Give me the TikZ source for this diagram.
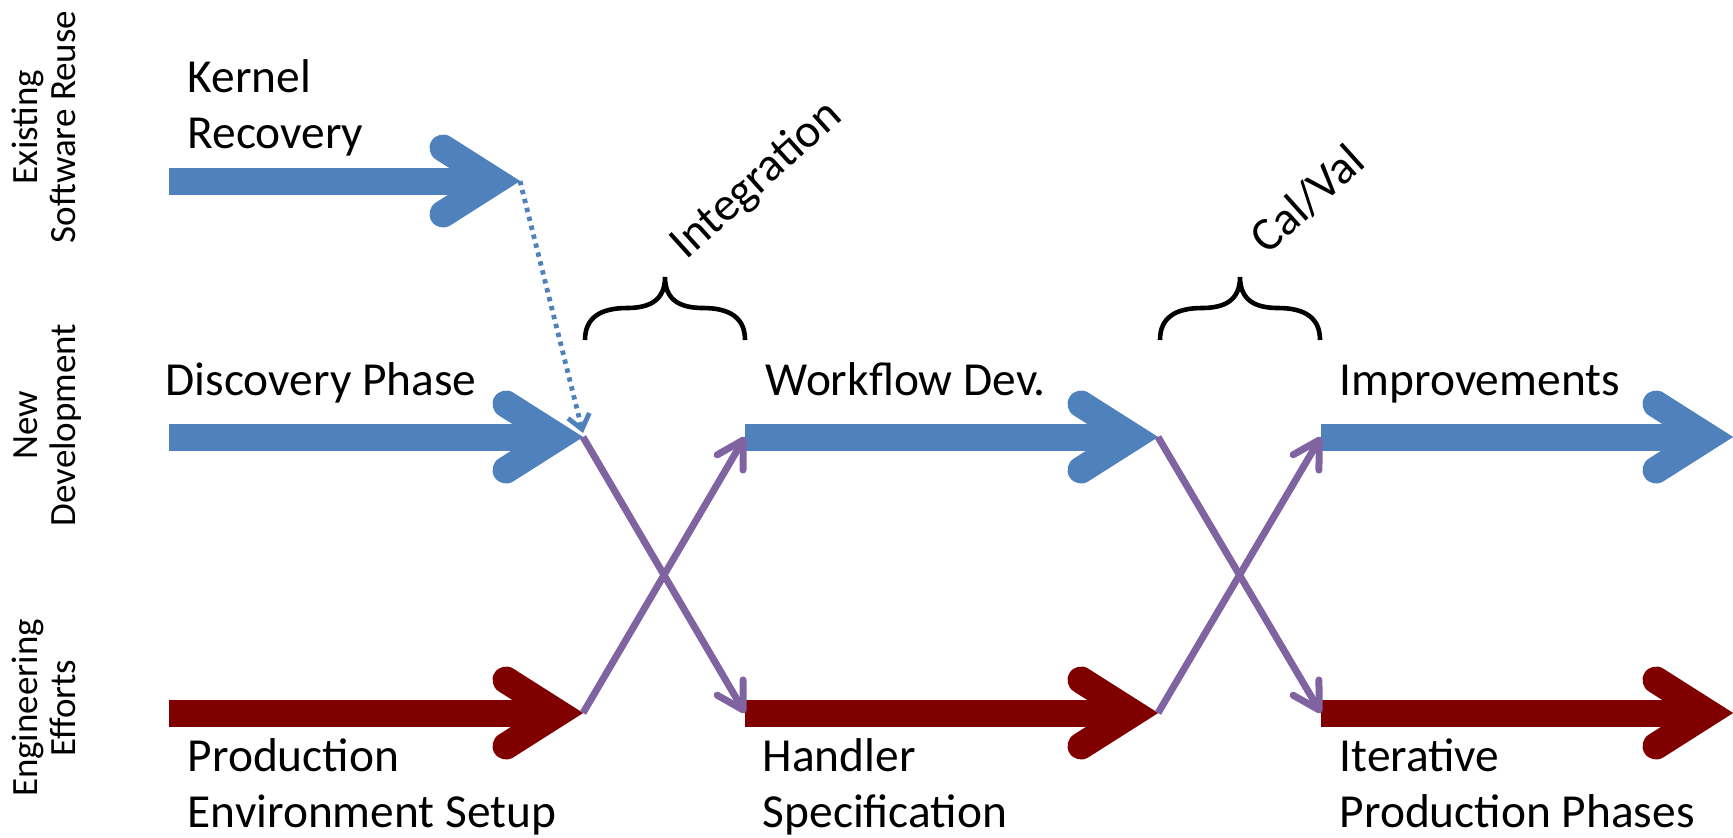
\documentclass[tikz,border=0pt]{standalone}
\usepackage{fontspec}
\setmainfont{Carlito}
\usetikzlibrary{arrows.meta}

\definecolor{flowblue}{RGB}{79,129,189}
\definecolor{flowred}{RGB}{128,0,0}
\definecolor{flowpurple}{RGB}{128,100,162}

\tikzset{every picture/.style={line width=0.75pt},
	shaft/.style={line width=13.5pt},
	fathead/.style={line width=13.5pt, line cap=round, line join=miter},
	swap/.style={flowpurple, line width=3.5pt, -{Straight Barb[length=13pt,width=15pt,round]}},
	reuse/.style={flowblue, line width=2.4pt, dash pattern=on 2.2pt off 2.4pt, -{Straight Barb[length=7pt,width=11pt]}},
	bracket/.style={line width=2.3pt},
	lbl/.style={inner sep=0pt, align=left, font=\fontsize{23.7}{28}\selectfont},
	side/.style={inner sep=0pt, align=center, rotate=90, font=\fontsize{18.5}{19}\selectfont}}

\begin{document}
\begin{tikzpicture}[x=0.5pt,y=0.5pt,yscale=-1,xscale=1]
	\useasboundingbox (0,0) rectangle (1733,837);
	
	%arrow ends
	\coordinate (kr-s) at (169,181);  \coordinate (kr-t) at (520,181);
	\coordinate (dp-s) at (169,437);  \coordinate (dp-t) at (583,437);
	\coordinate (pe-s) at (169,713);  \coordinate (pe-t) at (583,713);
	\coordinate (wf-s) at (745,437);  \coordinate (wf-t) at (1158,437);
	\coordinate (hs-s) at (745,713);  \coordinate (hs-t) at (1158,713);
	\coordinate (im-s) at (1321,437); \coordinate (im-t) at (1733,437);
	\coordinate (ip-s) at (1321,713); \coordinate (ip-t) at (1733,713);
	
	%Shape: fat arrows
	\draw [shaft, flowblue] (kr-s) -- ([xshift=-12.5pt]kr-t) ;
	\draw [fathead, flowblue, shift={(kr-t)}] (-77,-33) -- (-25,0) -- (-77,33) ;
	\draw [shaft, flowblue] (dp-s) -- ([xshift=-12.5pt]dp-t) ;
	\draw [fathead, flowblue, shift={(dp-t)}] (-77,-33) -- (-25,0) -- (-77,33) ;
	\draw [shaft, flowred] (pe-s) -- ([xshift=-12.5pt]pe-t) ;
	\draw [fathead, flowred, shift={(pe-t)}] (-77,-33) -- (-25,0) -- (-77,33) ;
	\draw [shaft, flowblue] (wf-s) -- ([xshift=-12.5pt]wf-t) ;
	\draw [fathead, flowblue, shift={(wf-t)}] (-77,-33) -- (-25,0) -- (-77,33) ;
	\draw [shaft, flowred] (hs-s) -- ([xshift=-12.5pt]hs-t) ;
	\draw [fathead, flowred, shift={(hs-t)}] (-77,-33) -- (-25,0) -- (-77,33) ;
	\draw [shaft, flowblue] (im-s) -- ([xshift=-12.5pt]im-t) ;
	\draw [fathead, flowblue, shift={(im-t)}] (-77,-33) -- (-25,0) -- (-77,33) ;
	\draw [shaft, flowred] (ip-s) -- ([xshift=-12.5pt]ip-t) ;
	\draw [fathead, flowred, shift={(ip-t)}] (-77,-33) -- (-25,0) -- (-77,33) ;
	
	%crossings
	\draw [swap] (dp-t) -- (hs-s) ;
	\draw [swap] (pe-t) -- (wf-s) ;
	\draw [swap] (wf-t) -- (ip-s) ;
	\draw [swap] (hs-t) -- (im-s) ;
	\draw [reuse] (kr-t) -- ([yshift=-2pt]dp-t) ;
	
	%Shape: Brace
	\draw [bracket] (585,340) .. controls (585,318) and (600,308) .. (627,308) .. controls (650,308) and (665,300) .. (665,277) .. controls (665,300) and (680,308) .. (703,308) .. controls (730,308) and (745,318) .. (745,340) ;
	%Shape: Brace
	\draw [bracket, shift={(575,0)}] (585,340) .. controls (585,318) and (600,308) .. (627,308) .. controls (650,308) and (665,300) .. (665,277) .. controls (665,300) and (680,308) .. (703,308) .. controls (730,308) and (745,318) .. (745,340) ;
	
	\node (kernel) [lbl, anchor=base west] at (187,148) {Kernel\\Recovery};
	\node (discovery) [lbl, anchor=base west] at (165,395) {Discovery Phase};
	\node (workflow) [lbl, anchor=base west] at (765,395) {Workflow Dev.};
	\node (improve) [lbl, anchor=base west] at (1339,395) {Improvements};
	\node (prodenv) [lbl, anchor=base west] at (187,827) {Production\\Environment Setup};
	\node (handler) [lbl, anchor=base west] at (762,827) {Handler\\Specification};
	\node (iterative) [lbl, anchor=base west] at (1339,827) {Iterative\\Production Phases};
	\node (integ) [lbl, anchor=base west, rotate=42] at (686,261) {Integration};
	\node (calval) [lbl, anchor=base west, rotate=42] at (1267,256) {Cal/Val};
	
	\node (existing) [side, anchor=base] at (75,127) {Existing\\Software Reuse};
	\node (newdev) [side, anchor=base] at (75,425) {New\\Development};
	\node (engeff) [side, anchor=base] at (75,708) {Engineering\\Efforts};
	
\end{tikzpicture}
\end{document}
